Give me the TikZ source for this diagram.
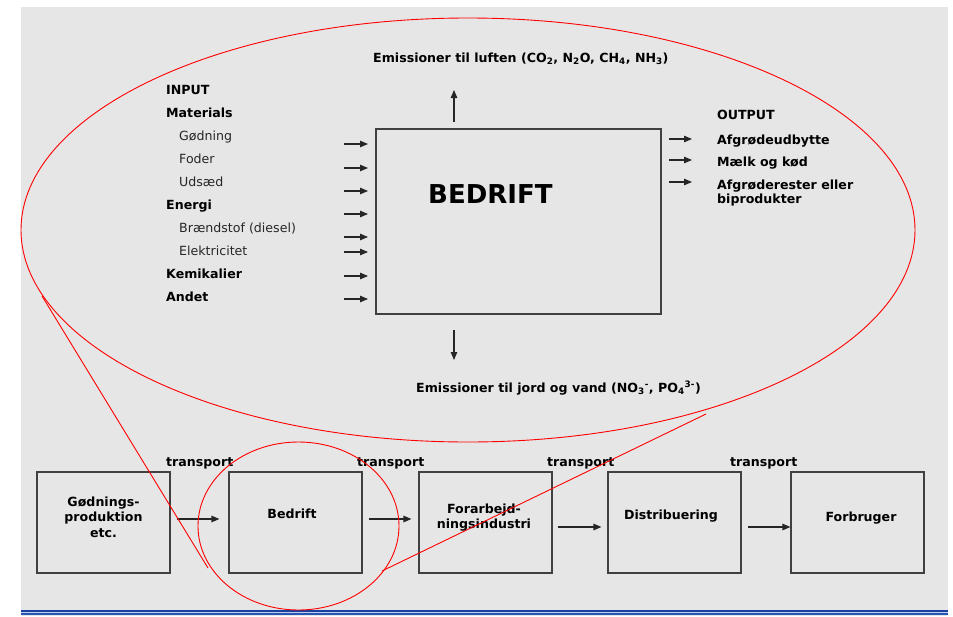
\documentclass[tikz,border=0pt]{standalone}
\usepackage{fontspec}
\setmainfont{DejaVu Sans}
\usetikzlibrary{arrows.meta}
\definecolor{bg}{RGB}{230,230,230}
\definecolor{bluedark}{RGB}{24,64,160}
\definecolor{bluemid}{RGB}{40,86,180}
\definecolor{bluelight}{RGB}{190,205,235}
\begin{document}
\begin{tikzpicture}[x=1pt,y=-1pt,
  lbl/.style={font=\fontsize{12.6}{15}\selectfont, inner sep=0pt, text=black!85},
  lblb/.style={font=\bfseries\fontsize{12.6}{15}\selectfont, inner sep=0pt, text=black},
  arr/.style={-{Triangle[length=8pt,width=6.5pt]}, line width=1.1pt, draw=black!85},
  bbox/.style={draw=black!75, line width=1.1pt, minimum width=133pt, minimum height=101pt, inner sep=0pt},
  zoomline/.style={red, line width=0.9pt}
]
\useasboundingbox (0,0) rectangle (953,616);
\fill[bg] (21,7) rectangle (948,616);
\draw[bluedark, line width=2pt] (21,611.2) -- (948,611.2);
\draw[bluelight, line width=0.8pt] (21,612.8) -- (948,612.8);
\draw[bluemid, line width=1.7pt] (21,614.2) -- (948,614.2);

% main box
\node[draw=black!75, line width=1.1pt, minimum width=285pt, minimum height=185pt, inner sep=0pt] (farm) at (518.5,221.5) {};
\node[font=\bfseries\fontsize{26}{30}\selectfont, inner sep=0pt, anchor=base west] (farmtxt) at (428,203) {BEDRIFT};

% input labels
\node[lblb, anchor=base west] (inp) at (166,94) {INPUT};
\node[lblb, anchor=base west] (mat) at (166,117) {Materials};
\node[lbl, anchor=base west] (god) at (179,140) {Gødning};
\node[lbl, anchor=base west] (fod) at (179,163) {Foder};
\node[lbl, anchor=base west] (uds) at (179,186) {Udsæd};
\node[lblb, anchor=base west] (ene) at (166,209) {Energi};
\node[lbl, anchor=base west] (bra) at (179,232) {Brændstof (diesel)};
\node[lbl, anchor=base west] (ele) at (179,255) {Elektricitet};
\node[lblb, anchor=base west] (kem) at (166,278) {Kemikalier};
\node[lblb, anchor=base west] (and) at (166,301) {Andet};

% input arrows
\foreach \i/\yy in {1/144,2/168,3/191,4/214,5/237,6/252,7/276,8/299}{
  \coordinate (ins\i) at (344,\yy);
  \coordinate (ine\i) at (368,\yy);
  \draw[arr] (ins\i) -- (ine\i);
}

% output
\node[lblb, anchor=base west] (out) at (717,119) {OUTPUT};
\node[lblb, anchor=base west] (o1) at (717,144) {Afgrødeudbytte};
\node[lblb, anchor=base west] (o2) at (717,166) {Mælk og kød};
\node[lblb, anchor=north west, align=left, font=\bfseries\fontsize{12.6}{14}\selectfont] (o3) at (717,179.5) {Afgrøderester eller\\biprodukter};
\foreach \i/\yy in {1/139,2/160,3/182}{
  \coordinate (outs\i) at (669,\yy);
  \coordinate (oute\i) at (692,\yy);
  \draw[arr] (outs\i) -- (oute\i);
}

% emissions
\node[lblb, anchor=base west] (air) at (373,62.5) {Emissioner til luften (CO\textsubscript{2}, N\textsubscript{2}O, CH\textsubscript{4}, NH\textsubscript{3})};
\node[lblb, anchor=base west] (soil) at (416,392) {Emissioner til jord og vand (NO\textsubscript{3}\textsuperscript{-}, PO\textsubscript{4}\textsuperscript{3-})};
\coordinate (ups) at (454,122);
\coordinate (upe) at (454,90);
\coordinate (dns) at (454,330);
\coordinate (dne) at (454,360);
\draw[arr] (ups) -- (upe);
\draw[arr] (dns) -- (dne);

% chain boxes
\node[bbox] (b1) at (103.5,522.5) {};
\node[bbox] (b2) at (295.5,522.5) {};
\node[bbox] (b3) at (485.5,522.5) {};
\node[bbox] (b4) at (674.5,522.5) {};
\node[bbox] (b5) at (857.5,522.5) {};

\node[lblb, anchor=north, align=center, font=\bfseries\fontsize{12.6}{15.5}\selectfont] (t1) at (103.5,496.5) {Gødnings-\\produktion\\etc.};
\node[lblb, anchor=base] (t2) at (292,518) {Bedrift};
\node[lblb, anchor=north, align=center, font=\bfseries\fontsize{12.6}{15}\selectfont] (t3) at (484,503.5) {Forarbejd-\\ningsindustri};
\node[lblb, anchor=base] (t4) at (671,519) {Distribuering};
\node[lblb, anchor=base] (t5) at (861,521) {Forbruger};

\node[lblb, anchor=base west] (tr1) at (166,466) {transport};
\node[lblb, anchor=base west] (tr2) at (357,466) {transport};
\node[lblb, anchor=base west] (tr3) at (547,466) {transport};
\node[lblb, anchor=base west] (tr4) at (730,466) {transport};

\draw[arr] ([xshift=6pt,yshift=3.5pt]b1.east) -- ([xshift=-9pt,yshift=3.5pt]b2.west);
\draw[arr] ([xshift=6pt,yshift=3.5pt]b2.east) -- ([xshift=-7pt,yshift=3.5pt]b3.west);
\draw[arr] ([xshift=5pt,yshift=-4.5pt]b3.east) -- ([xshift=-6pt,yshift=-4.5pt]b4.west);
\draw[arr] ([xshift=6pt,yshift=-4.5pt]b4.east) -- ([xshift=0pt,yshift=-4.5pt]b5.west);

% zoom ellipses
\draw[zoomline] (468,230) ellipse [x radius=447pt, y radius=212pt];
\draw[zoomline] (298.5,526) ellipse [x radius=100.5pt, y radius=84pt];
\coordinate (zl1) at (42,296);
\coordinate (zl2) at (208,568);
\coordinate (zr1) at (706,414);
\coordinate (zr2) at (382,571);
\draw[zoomline] (zl1) -- (zl2);
\draw[zoomline] (zr1) -- (zr2);
\end{tikzpicture}
\end{document}
